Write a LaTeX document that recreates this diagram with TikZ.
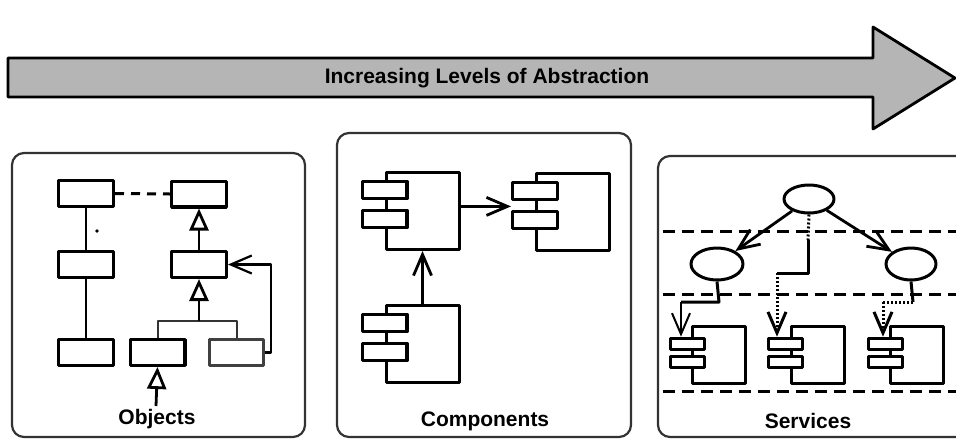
\documentclass[tikz,border=0pt]{standalone}
\usepackage{fontspec}
\setmainfont{Liberation Sans}
\usetikzlibrary{arrows.meta,shapes.geometric,positioning}
\definecolor{arrowgray}{HTML}{B5B5B5}

\begin{document}
\begin{tikzpicture}[x=1pt,y=-1pt,line join=round,font=\fontsize{21}{24}\selectfont\bfseries,>={Straight Barb[length=21pt,width=18pt]}]
\tikzset{
  panel/.style={draw=black!80,line width=2.2pt,rounded corners=12pt},
  cls/.style={draw,line width=3.4pt,minimum width=54.6pt,minimum height=25.6pt,inner sep=0pt},
  body/.style={draw,fill=white,line width=3pt,minimum width=73pt,minimum height=77pt,inner sep=0pt},
  tab/.style={draw,fill=white,line width=3.4pt,minimum width=44.6pt,minimum height=17.4pt,inner sep=0pt},
  sbody/.style={draw,fill=white,line width=3pt,minimum width=53pt,minimum height=57pt,inner sep=0pt},
  stab/.style={draw,fill=white,line width=3pt,minimum width=34pt,minimum height=11.6pt,inner sep=0pt},
  svc/.style={ellipse,draw,line width=3pt,inner sep=0pt},
  gen/.style={-{Triangle[open,length=22pt,width=19pt]},line width=2.8pt},
  dep/.style={->,line width=2.8pt},
  lane/.style={line width=3pt,dash pattern=on 12pt off 7pt},
  dots/.style={line width=3pt,dash pattern=on 2pt off 2pt}
}
\useasboundingbox (0,0) rectangle (956,440);

% abstraction arrow
\filldraw[fill=arrowgray,line width=2.8pt] (8,58) -- (873,58) -- (873,27) -- (955,78)
  -- (873,129) -- (873,97) -- (8,97) -- cycle;
\node (absTitle) at (487,78) {Increasing Levels of Abstraction};

% panels
\draw[panel] (12,153) rectangle (305,437);
\draw[panel] (337,133) rectangle (631,437);
\draw[panel] (658,156) rectangle (985,437);

% objects
\node[cls] (clsA) at (86,193.5) {};
\node[cls] (clsB) at (86,264.5) {};
\node[cls] (clsG) at (86,352.5) {};
\node[cls] (clsC) at (199,194) {};
\node[cls] (clsD) at (199,264.5) {};
\node[cls] (clsE) at (157.5,352.5) {};
\node[cls,draw=black!75,line width=2.8pt] (clsF) at (236.5,352.5) {};
\draw[line width=2.8pt] (clsA) -- (clsB);
\draw[line width=2.8pt] (clsB) -- (clsG);
\draw[line width=3pt,dash pattern=on 9pt off 7pt] (clsA.east) -- (clsC.west);
\fill (97,231) circle (1.8pt);
\draw[gen] (clsD) -- (clsC);
\coordinate (fork) at (199,321);
\draw[line width=2pt,black!80] (clsE.north) |- (fork) -| (clsF.north);
\draw[gen] (fork) -- (clsD.south);
\coordinate (eTail) at (156,406);
\draw[gen] (eTail) -- (clsE.south);
\draw[dep,line width=2.2pt] (clsF.east) -- ++(6,0) |- (clsD.east);
\node (objLbl) at (157,419) {Objects};

% components
\foreach \n/\x/\y in {cmpA/422.5/211,cmpB/573/212,cmpC/422.5/344}{
  \node[body] (\n) at (\x,\y) {};
  \node[tab] (\n-1) at ([yshift=-19pt]\n.north west) {};
  \node[tab] (\n-2) at ([yshift=-48pt]\n.north west) {};
}
\coordinate (cmpIn) at ([yshift=-5pt]cmpB-1.south west);
\draw[dep] (cmpA.east |- cmpIn) -- (cmpIn);
\draw[dep] (cmpC) -- (cmpA);
\node (cmpLbl) at (485,421) {Components};

% services
\foreach \y in {231,294,391}
  \draw[lane] (663,\y) -- (958,\y);
\node[svc,minimum width=50pt,minimum height=28pt] (svcTop) at (809,199) {};
\node[svc,minimum width=52pt,minimum height=32pt] (svcL) at (717,264) {};
\node[svc,minimum width=50pt,minimum height=32pt] (svcR) at (911,264) {};
\foreach \n/\x in {srvA/719,srvB/817.5,srvC/917}{
  \node[sbody] (\n) at (\x,355) {};
  \node[stab] (\n-1) at ([xshift=-4pt,yshift=-19pt]\n.north west) {};
  \node[stab] (\n-2) at ([xshift=-4pt,yshift=-37pt]\n.north west) {};
}
\draw[dep] (svcTop) -- (svcL);
\draw[dep] (svcTop) -- (svcR);
\coordinate (m1) at (808,240);
\coordinate (m2) at (808,273);
\coordinate (m3) at (777,273);
\draw[dots] (svcTop.south) -- (m1);
\draw[line width=3pt] (m1) -- (m2) -- (m3);
\draw[dots,->] (m3) -- (m3 |- srvB-1.north);
\coordinate (l1) at (719,302);
\coordinate (l2) at (681,302);
\draw[line width=3pt] (svcL.south) -- (l1) -- (l2);
\draw[->,line width=2pt] (l2) -- (l2 |- srvA-1.north);
\coordinate (r1) at (913,302);
\coordinate (r2) at (883,302);
\draw[line width=3pt] (svcR.south) -- (r1);
\draw[dots] (r1) -- (r2);
\draw[dots,->] (r2) -- (r2 |- srvC-1.north);
\node (svcLbl) at (808,421) {Services};
\end{tikzpicture}
\end{document}
